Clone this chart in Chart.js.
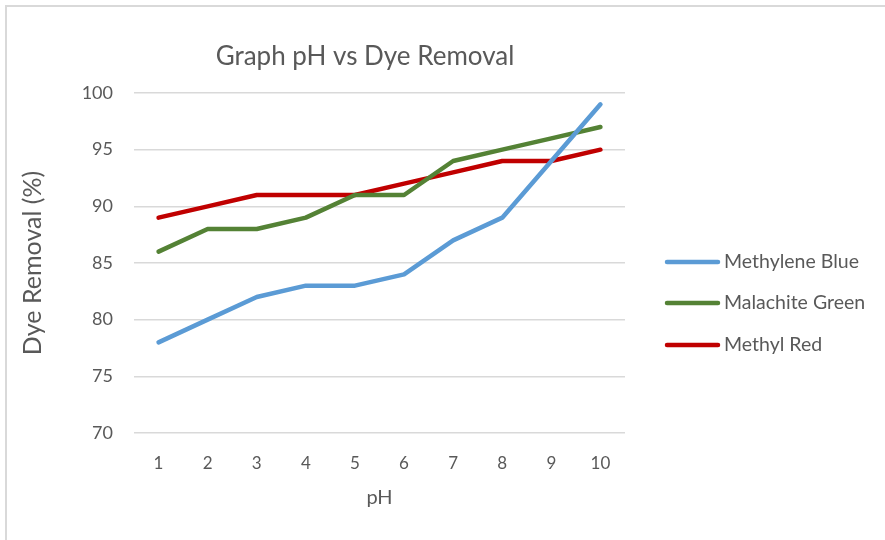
<!DOCTYPE html>
<html>
<head>
<meta charset="utf-8">
<script src="https://cdn.jsdelivr.net/npm/chart.js@4.4.1/dist/chart.umd.min.js"></script>
<style>
  html, body { margin: 0; padding: 0; background: #fff; }
  #wrap { position: relative; width: 885px; height: 540px; overflow: hidden; }
  #frame { position: absolute; left: 5px; top: 5px; width: 900px; height: 600px; border: 2px solid #d9d9d9; box-sizing: border-box; }
  canvas { position: absolute; left: 0; top: 0; }
</style>
</head>
<body>
<div id="wrap">
  <div id="frame"></div>
  <canvas id="dyeChart" width="885" height="540"></canvas>
</div>
<script>
// 数据
const phLabels = ['1', '2', '3', '4', '5', '6', '7', '8', '9', '10'];
const methyleneBlue = [78, 80, 82, 83, 83, 84, 87, 89, 94, 99];
const malachiteGreen = [86, 88, 88, 89, 91, 91, 94, 95, 96, 97];
const methylRed = [89, 90, 91, 91, 91, 92, 93, 94, 94, 95];
const chartTitle = 'Graph pH vs Dye Removal';

const FONT = 'Lato, "Open Sans", sans-serif';
const TEXT = '#595959';

// 标题和右侧图例，手动绘制
const sideLegend = {
    id: 'sideLegend',
    afterDraw(chart) {
        const ctx = chart.ctx;
        const rows = [262, 303, 345];
        ctx.save();
        ctx.fillStyle = TEXT;
        ctx.font = '26px ' + FONT;
        ctx.textAlign = 'center';
        ctx.textBaseline = 'middle';
        ctx.fillText(chartTitle, 365, 57);

        ctx.textAlign = 'left';
        chart.data.datasets.forEach(function(ds, i) {
            const y = rows[i];
            ctx.strokeStyle = ds.borderColor;
            ctx.lineWidth = 4.5;
            ctx.lineCap = 'round';
            ctx.beginPath();
            ctx.moveTo(667, y);
            ctx.lineTo(718, y);
            ctx.stroke();
            ctx.fillStyle = TEXT;
            ctx.font = '19.5px ' + FONT;
            ctx.fillText(ds.label, 724, y);
        });
        ctx.restore();
    }
};

function lineSet(label, data, color) {
    return {
        label: label,
        data: data,
        borderColor: color,
        backgroundColor: color,
        borderWidth: 4.5,
        borderCapStyle: 'round',
        borderJoinStyle: 'round',
        pointRadius: 0,
        tension: 0,
        fill: false
    };
}

new Chart(document.getElementById('dyeChart').getContext('2d'), {
    type: 'line',
    data: {
        labels: phLabels,
        datasets: [
            lineSet('Methylene Blue', methyleneBlue, '#5b9bd5'),
            lineSet('Malachite Green', malachiteGreen, '#548235'),
            lineSet('Methyl Red', methylRed, '#c00000')
        ]
    },
    options: {
        responsive: false,
        animation: false,
        layout: { padding: { left: 0, top: 93, right: 260, bottom: 0 } },
        scales: {
            x: {
                offset: true,
                grid: { display: false },
                border: { display: false },
                ticks: { color: TEXT, font: { family: FONT, size: 17 }, padding: 12, maxRotation: 0 },
                title: { display: true, text: 'pH', color: TEXT, font: { family: FONT, size: 20 }, padding: { top: 0, bottom: 30 } },
                afterFit: function(s) { s.height = 107; }
            },
            y: {
                min: 70,
                max: 100,
                grid: { color: '#d9d9d9', lineWidth: 1.5, drawTicks: false },
                border: { display: false },
                ticks: { stepSize: 5, color: TEXT, font: { family: FONT, size: 18 }, padding: 21 },
                title: { display: true, text: 'Dye Removal (%)', color: TEXT, font: { family: FONT, size: 25 }, padding: { top: 18, bottom: 0 } },
                afterFit: function(s) { s.width = 134; }
            }
        },
        plugins: {
            legend: { display: false },
            tooltip: { enabled: false },
            title: { display: false }
        }
    },
    plugins: [sideLegend]
});
</script>
</body>
</html>
